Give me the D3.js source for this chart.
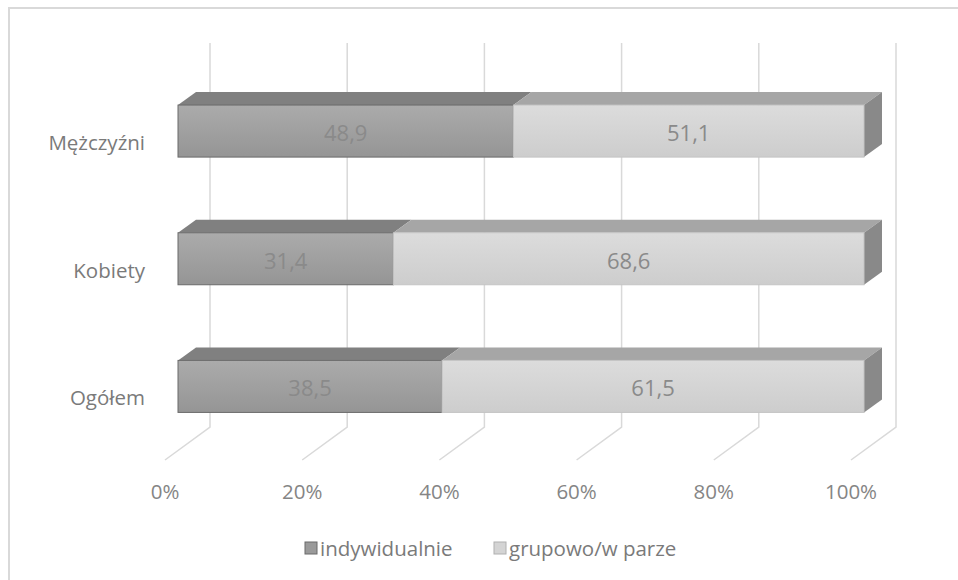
<!DOCTYPE html>
<html>
<head>
<meta charset="utf-8">
<script src="https://cdn.jsdelivr.net/npm/d3@7"></script>
<style>
  html, body { margin: 0; padding: 0; background: #fff; }
  svg { display: block; font-family: "Open Sans", "Noto Sans", sans-serif; }
</style>
</head>
<body>
<svg id="chart" width="958" height="580"></svg>
<script>
// Data
const categories = ["Mężczyźni", "Kobiety", "Ogółem"];
const seriesNames = ["indywidualnie", "grupowo/w parze"];
const indywidualnie = [48.9, 31.4, 38.5];
const grupowo = [51.1, 68.6, 61.5];
const tickValues = [0, 20, 40, 60, 80, 100];

const svg = d3.select("#chart");

// Outer frame
svg.append("rect")
  .attr("x", 9).attr("y", 8).attr("width", 1200).attr("height", 1200)
  .attr("fill", "#fff").attr("stroke", "#d9d9d9").attr("stroke-width", 2);

// Oblique 3D geometry: back wall, front floor edge and bar front face
const xWall = d3.scaleLinear().domain([0, 100]).range([210, 896]);
const xFloor = d3.scaleLinear().domain([0, 100]).range([165, 851]);
const xBar = d3.scaleLinear().domain([0, 100]).range([178, 864]);
const wallTop = 43, wallBottom = 427, floorFront = 460;
const depth = { dx: 18, dy: -13 };   // bar top/side face offset
const barH = 52;

const y = d3.scalePoint().domain(categories).range([67.25, 450.25]).padding(0.5);

// Gridlines on the back wall and floor
const grid = svg.append("g").attr("fill", "none").attr("stroke", "#d9d9d9").attr("stroke-width", 1.5);
tickValues.forEach(v => {
  grid.append("path").attr("d",
    `M${xWall(v)},${wallTop}L${xWall(v)},${wallBottom}L${xFloor(v)},${floorFront}`);
});

// Tick labels along the floor edge
svg.append("g").selectAll("text").data(tickValues).join("text")
  .attr("x", d => xFloor(d)).attr("y", 491)
  .attr("text-anchor", "middle").attr("dominant-baseline", "central")
  .attr("font-size", 20.5).attr("fill", "#858585")
  .text(d => d + "%");

// Gradients for front faces
const defs = svg.append("defs");
function grad(id, c0, c1) {
  const g = defs.append("linearGradient").attr("id", id).attr("x1", 0).attr("y1", 0).attr("x2", 0).attr("y2", 1);
  g.append("stop").attr("offset", "0%").attr("stop-color", c0);
  g.append("stop").attr("offset", "100%").attr("stop-color", c1);
}
grad("gDark", "#ababab", "#959595");
grad("gLight", "#dcdcdc", "#cdcdcd");

const styles = [
  { front: "url(#gDark)", top: "#808080", side: "#6f6f6f", stroke: "#6a6a6a", label: "#8a8a8a" },
  { front: "url(#gLight)", top: "#a6a6a6", side: "#898989", stroke: "#c4c4c4", label: "#8a8a8a" }
];

// Stacked segments
const rows = categories.map((c, i) => {
  const vals = [indywidualnie[i], grupowo[i]];
  let acc = 0;
  return { cat: c, segs: vals.map((v, k) => { const s = { k, v, x0: acc, x1: acc + v }; acc += v; return s; }) };
});

const bars = svg.append("g");
rows.forEach(r => {
  const yTop = y(r.cat) - barH / 2;
  const g = bars.append("g");
  r.segs.forEach(s => {
    const st = styles[s.k];
    const xa = xBar(s.x0), xb = xBar(s.x1);
    // top face
    g.append("path")
      .attr("d", `M${xa},${yTop}L${xa + depth.dx},${yTop + depth.dy}L${xb + depth.dx},${yTop + depth.dy}L${xb},${yTop}Z`)
      .attr("fill", st.top);
    // right side face (visible on the last segment)
    if (s.k === r.segs.length - 1) {
      g.append("path")
        .attr("d", `M${xb},${yTop}L${xb + depth.dx},${yTop + depth.dy}L${xb + depth.dx},${yTop + depth.dy + barH}L${xb},${yTop + barH}Z`)
        .attr("fill", st.side);
    }
    // front face
    g.append("rect")
      .attr("x", xa).attr("y", yTop).attr("width", xb - xa).attr("height", barH)
      .attr("fill", st.front).attr("stroke", st.stroke).attr("stroke-width", 1);
    // value label
    g.append("text")
      .attr("x", (xa + xb) / 2).attr("y", yTop + barH / 2 + 1)
      .attr("text-anchor", "middle").attr("dominant-baseline", "central")
      .attr("font-size", 22).attr("fill", st.label)
      .text(d3.format(".1f")(s.v).replace(".", ","));
  });
});

// Category labels
svg.append("g").selectAll("text").data(categories).join("text")
  .attr("x", 145).attr("y", d => y(d) + 11)
  .attr("text-anchor", "end").attr("dominant-baseline", "central")
  .attr("font-size", 20.5).attr("fill", "#7a7a7a")
  .text(d => d);

// Legend
const legendItems = [
  { name: seriesNames[0], x: 305, fill: "#9a9a9a", stroke: "#6a6a6a" },
  { name: seriesNames[1], x: 494, fill: "#d4d4d4", stroke: "#b0b0b0" }
];
const lg = svg.append("g");
legendItems.forEach(it => {
  lg.append("rect").attr("x", it.x).attr("y", 542).attr("width", 12).attr("height", 12)
    .attr("fill", it.fill).attr("stroke", it.stroke).attr("stroke-width", 1);
  lg.append("text").attr("x", it.x + 15).attr("y", 548)
    .attr("dominant-baseline", "central").attr("font-size", 20.5).attr("fill", "#7a7a7a")
    .text(it.name);
});
</script>
</body>
</html>
